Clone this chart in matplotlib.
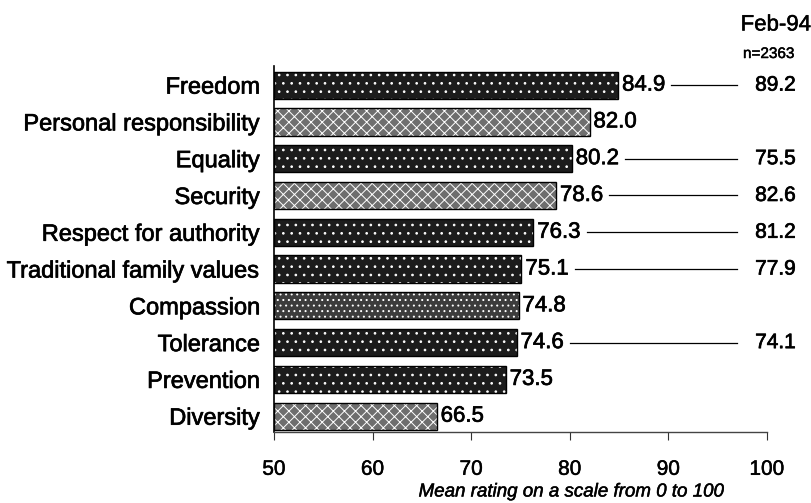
import matplotlib
matplotlib.use("Agg")
import matplotlib.pyplot as plt
import matplotlib.patheffects as pe

categories = ["Freedom", "Personal responsibility", "Equality", "Security",
              "Respect for authority", "Traditional family values", "Compassion",
              "Tolerance", "Prevention", "Diversity"]
current = [84.9, 82.0, 80.2, 78.6, 76.3, 75.1, 74.8, 74.6, 73.5, 66.5]
feb94 = [89.2, None, 75.5, 82.6, 81.2, 77.9, None, 74.1, None, None]
shade = ["dark", "light", "dark", "light", "dark", "dark", "mid", "dark", "dark", "light"]
xticks = [50, 60, 70, 80, 90, 100]

plt.rcParams['font.family'] = ['Liberation Sans', 'DejaVu Sans']
plt.rcParams['hatch.linewidth'] = 0.7

heavy = [pe.withStroke(linewidth=0.5, foreground="black")]
light_stroke = [pe.withStroke(linewidth=0.35, foreground="black")]

fig = plt.figure(figsize=(8.12, 5.03), dpi=100)
ax = fig.add_axes([274/812, 1-432/503, (767-274)/812, (432-66)/503])

fills = {"dark": "#1c1c1c", "light": "#6e6e6e", "mid": "#3c3c3c"}
hatches = {"dark": "..", "light": "xxx", "mid": "..."}
ypos = list(range(len(categories)))
for y, v, s in zip(ypos, current, shade):
    ax.barh(y, v - 50, left=50, height=0.74, color=fills[s], hatch=hatches[s],
            edgecolor="white", linewidth=0, zorder=2)
    ax.barh(y, v - 50, left=50, height=0.74, facecolor="none",
            edgecolor="black", linewidth=1.0, zorder=3)
    ax.text(v + 0.4, y, f"{v:.1f}", va="center", ha="left", fontsize=16,
            zorder=4, path_effects=heavy)

for y, v, f in zip(ypos, current, feb94):
    if f is None:
        continue
    ax.plot([v + 5.4, 97.0], [y, y], color="black", linewidth=0.9,
            clip_on=False, zorder=4)
    ax.text(98.8, y, f"{f:.1f}", va="center", ha="left", fontsize=15,
            clip_on=False, path_effects=heavy)

ax.set_xlim(50, 100)
ax.set_ylim(9.43, -0.52)
ax.set_yticks(ypos)
ax.set_yticklabels(categories, fontsize=17)
for lab in ax.get_yticklabels():
    lab.set_path_effects(heavy)
ax.tick_params(axis="y", length=0, pad=10)
ax.set_xticks(xticks)
ax.set_xticklabels([str(t) for t in xticks], fontsize=15)
for lab in ax.get_xticklabels():
    lab.set_path_effects(light_stroke)
ax.tick_params(axis="x", direction="out", length=6, pad=14, color="#333333")
ax.set_xlabel("Mean rating on a scale from 0 to 100", fontsize=13.5, style="italic",
              path_effects=light_stroke)
ax.xaxis.set_label_coords((571-274)/(767-274), -(492-432)/(432-66))
ax.xaxis.label.set_va("center")
for sp in ["top", "right"]:
    ax.spines[sp].set_visible(False)
ax.spines["left"].set_linewidth(1.2)
ax.spines["bottom"].set_linewidth(1.0)
ax.spines["bottom"].set_color("#444444")

fig.text(811/812, 1-25/503, "Feb-94", ha="right", va="center", fontsize=16,
         path_effects=light_stroke)
fig.text(743/812, 1-54/503, "n=2363", ha="left", va="center", fontsize=11,
         path_effects=light_stroke)

fig.savefig("out.png", dpi=100)
